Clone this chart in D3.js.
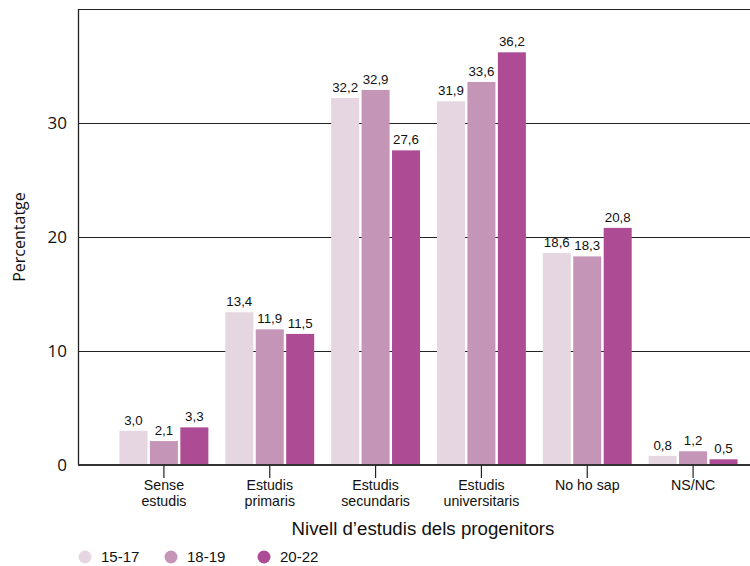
<!DOCTYPE html>
<html><head><meta charset="utf-8">
<script src="https://cdn.jsdelivr.net/npm/d3@7"></script>
<style>body{margin:0;background:#fff}svg{display:block}</style>
</head><body>
<svg id="c" width="750" height="566"></svg>
<script>
const categories = [["Sense","estudis"],["Estudis","primaris"],["Estudis","secundaris"],["Estudis","universitaris"],["No ho sap"],["NS/NC"]];
const seriesNames = ["15-17","18-19","20-22"];
const s1517 = [3.0,13.4,32.2,31.9,18.6,0.8];
const s1819 = [2.1,11.9,32.9,33.6,18.3,1.2];
const s2022 = [3.3,11.5,27.6,36.2,20.8,0.5];
const colors = ["#e6d6e1","#c595b8","#ad4b94"];
const yTicks = [0,10,20,30];

const series = [s1517,s1819,s2022];
const svg = d3.select("#c");
const L = 78, T = 9, R = 750, B = 465;
const y = d3.scaleLinear().domain([0,40]).range([B,T]);
const x = d3.scaleBand().domain(d3.range(categories.length)).range([111,746]).paddingInner(0.16).paddingOuter(0.08);
const xs = d3.scaleBand().domain(d3.range(3)).range([0,x.bandwidth()]).paddingInner(0.08);

// gridlines
svg.append("g").selectAll("line").data(yTicks.filter(d=>d>0).concat([40])).join("line")
  .attr("x1",L).attr("x2",R).attr("y1",d=>Math.round(y(d))+0.5).attr("y2",d=>Math.round(y(d))+0.5)
  .attr("stroke","#222").attr("stroke-width",1.1);
// left axis line
svg.append("line").attr("x1",L+0.5).attr("x2",L+0.5).attr("y1",T).attr("y2",B).attr("stroke","#222").attr("stroke-width",1.3);

// y tick labels
svg.append("g").selectAll("text").data(yTicks).join("text")
  .attr("x",67).attr("y",d=>y(d)).attr("dy","0.36em").attr("text-anchor","end")
  .attr("font-family","Open Sans, sans-serif").attr("font-size",17).attr("fill","#111").text(d=>d);

// bars
const g = svg.append("g");
series.forEach((s,si)=>{
  g.selectAll(".b"+si).data(s).join("rect")
    .attr("x",(d,i)=>x(i)+xs(si)).attr("width",xs.bandwidth())
    .attr("y",d=>y(d)).attr("height",d=>B-y(d)).attr("fill",colors[si]);
  g.selectAll(".t"+si).data(s).join("text")
    .attr("x",(d,i)=>x(i)+xs(si)+xs.bandwidth()/2).attr("y",d=>y(d)-6)
    .attr("text-anchor","middle").attr("font-family","Liberation Sans, Arial, sans-serif")
    .attr("font-size",13.3).attr("fill","#111").text(d=>d.toFixed(1).replace(".",","));
});

// bottom axis
svg.append("line").attr("x1",L).attr("x2",R).attr("y1",B).attr("y2",B).attr("stroke","#333").attr("stroke-width",2.2);
const xt = svg.append("g").selectAll("g").data(categories).join("g")
  .attr("transform",(d,i)=>`translate(${x(i)+x.bandwidth()/2},0)`);
xt.append("line").attr("y1",B).attr("y2",B+13).attr("stroke","#222").attr("stroke-width",1.2);
xt.append("text").attr("text-anchor","middle").attr("font-family","Liberation Sans, Arial, sans-serif")
  .attr("font-size",14.2).attr("fill","#111")
  .selectAll("tspan").data(d=>d).join("tspan").attr("x",0).attr("y",(d,i)=>490+i*15.5).text(d=>d);

// axis titles
svg.append("text").attr("x",423).attr("y",535).attr("text-anchor","middle")
  .attr("font-family","Liberation Sans, Arial, sans-serif").attr("font-size",18.7).attr("fill","#111")
  .text("Nivell d\u2019estudis dels progenitors");
svg.append("text").attr("transform","translate(25,237) rotate(-90)").attr("text-anchor","middle")
  .attr("font-family","Open Sans, sans-serif").attr("font-size",16).attr("fill","#111").text("Percentatge");

// legend
const lx = [85,171,264];
const lg = svg.append("g").selectAll("g").data(seriesNames).join("g").attr("transform",(d,i)=>`translate(${lx[i]},557)`);
lg.append("circle").attr("r",6.5).attr("fill",(d,i)=>colors[i]);
lg.append("text").attr("x",16).attr("dy","0.36em").attr("font-family","Liberation Sans, Arial, sans-serif")
  .attr("font-size",15).attr("fill","#111").text(d=>d);
</script>
</body></html>
